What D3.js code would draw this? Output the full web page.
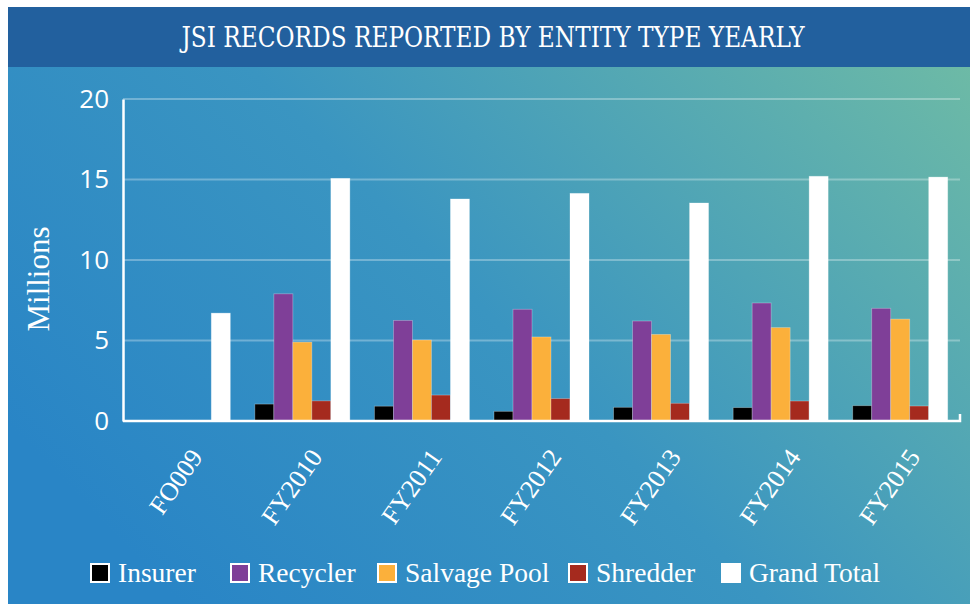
<!DOCTYPE html>
<html>
<head>
<meta charset="utf-8">
<script src="https://cdn.jsdelivr.net/npm/d3@7"></script>
<style>
  body { margin: 0; background: #fff; }
</style>
</head>
<body>
<div id="chart"></div>
<script>
// data
let years = ["FO009", "FY2010", "FY2011", "FY2012", "FY2013", "FY2014", "FY2015"];
let seriesNames = ["Insurer", "Recycler", "Salvage Pool", "Shredder", "Grand Total"];
let insurer = [0, 1.05, 0.92, 0.6, 0.85, 0.83, 0.95];
let recycler = [0, 7.9, 6.25, 6.94, 6.21, 7.33, 7.0];
let salvagePool = [0, 4.9, 5.03, 5.22, 5.38, 5.8, 6.33];
let shredder = [0, 1.25, 1.61, 1.39, 1.1, 1.24, 0.93];
let grandTotal = [6.7, 15.07, 13.79, 14.14, 13.54, 15.2, 15.15];
let yTicks = [0, 5, 10, 15, 20];

function init() {
    let width = 970;
    let height = 604;
    let colors = ["#000000", "#7f3f98", "#fbb03b", "#a52a1e", "#ffffff"];
    let allSeries = [insurer, recycler, salvagePool, shredder, grandTotal];

    let svg = d3.select("#chart")
        .append("svg")
        .attr("width", width)
        .attr("height", height);

    let defs = svg.append("defs");
    let grad = defs.append("linearGradient")
        .attr("id", "bg")
        .attr("x1", "0").attr("y1", "0.7")
        .attr("x2", "1").attr("y2", "0.1");
    grad.append("stop").attr("offset", "0").attr("stop-color", "#2985c6");
    grad.append("stop").attr("offset", "0.45").attr("stop-color", "#3a95c1");
    grad.append("stop").attr("offset", "1").attr("stop-color", "#6dbaa6");

    // background + header
    svg.append("rect")
        .attr("x", 8).attr("y", 7)
        .attr("width", width - 8).attr("height", height - 7)
        .attr("fill", "url(#bg)");
    svg.append("rect")
        .attr("x", 8).attr("y", 7)
        .attr("width", width - 8).attr("height", 60)
        .attr("fill", "#22609e");
    svg.append("text")
        .attr("x", 493).attr("y", 47)
        .attr("text-anchor", "middle")
        .attr("fill", "#fff")
        .attr("font-family", "'DejaVu Serif Condensed', 'DejaVu Serif', serif")
        .attr("font-size", 27)
        .attr("textLength", 623)
        .attr("lengthAdjust", "spacingAndGlyphs")
        .text("JSI RECORDS REPORTED BY ENTITY TYPE YEARLY");

    let left = 123, right = 960, top = 99, bottom = 421;

    let xScale = d3.scaleBand()
        .domain(years)
        .range([left, right]);
    let barW = 19;
    let xInner = d3.scaleBand()
        .domain(seriesNames)
        .range([0, barW * 5]);
    let yScale = d3.scaleLinear()
        .domain([0, 20])
        .range([bottom, top]);

    // gridlines
    svg.append("g")
        .selectAll("line")
        .data(yTicks.slice(1))
        .enter()
        .append("line")
        .attr("x1", left).attr("x2", right)
        .attr("y1", d => yScale(d)).attr("y2", d => yScale(d))
        .attr("stroke", "rgba(255,255,255,0.3)")
        .attr("stroke-width", 2);

    // bars
    let groups = svg.append("g")
        .selectAll("g")
        .data(years)
        .enter()
        .append("g")
        .attr("transform", d => "translate(" + (xScale(d) + (xScale.bandwidth() - barW * 5) / 2) + ",0)");
    groups.selectAll("rect")
        .data((d, i) => seriesNames.map((s, j) => ({ s: s, v: allSeries[j][i], c: colors[j] })))
        .enter()
        .filter(d => d.v > 0)
        .append("rect")
        .attr("x", d => xInner(d.s))
        .attr("width", xInner.bandwidth())
        .attr("y", d => yScale(d.v))
        .attr("height", d => bottom - yScale(d.v))
        .attr("fill", d => d.c)
        .attr("stroke", "rgba(255,255,255,0.35)")
        .attr("stroke-width", 0.8);

    // y axis
    let yAxis = svg.append("g")
        .attr("transform", "translate(" + left + ",0)")
        .call(d3.axisLeft(yScale).tickValues(yTicks).tickSize(0).tickPadding(14));
    yAxis.select(".domain").attr("stroke", "#fff").attr("stroke-width", 2.5);
    yAxis.selectAll("text")
        .attr("fill", "#fff")
        .attr("font-family", "'Open Sans', sans-serif")
        .attr("font-size", 26);

    // x axis
    let xAxis = svg.append("g")
        .attr("transform", "translate(0," + bottom + ")")
        .call(d3.axisBottom(xScale).tickSize(0).tickPadding(0));
    xAxis.select(".domain").attr("stroke", "#fff").attr("stroke-width", 2.5)
        .attr("d", "M" + left + ",0H" + right + "V-7");
    xAxis.selectAll("text")
        .attr("fill", "#fff")
        .attr("font-family", "'Liberation Serif', serif")
        .attr("font-size", 26)
        .attr("text-anchor", "end")
        .attr("dy", 0)
        .attr("transform", function () {
            return "translate(21,36) rotate(-55)";
        });

    svg.append("text")
        .attr("transform", "translate(49,279) rotate(-90)")
        .attr("text-anchor", "middle")
        .attr("fill", "#fff")
        .attr("font-family", "'Liberation Serif', serif")
        .attr("font-size", 31)
        .text("Millions");

    // legend
    let legendX = [90, 230, 377, 568, 721];
    let legend = svg.append("g")
        .selectAll("g")
        .data(seriesNames)
        .enter()
        .append("g")
        .attr("transform", (d, i) => "translate(" + legendX[i] + ",563)");
    legend.append("rect")
        .attr("x", 1).attr("y", 1)
        .attr("width", 18).attr("height", 18)
        .attr("fill", (d, i) => colors[i])
        .attr("stroke", "#fff")
        .attr("stroke-width", 2);
    legend.append("text")
        .attr("x", 28).attr("y", 19)
        .attr("fill", "#fff")
        .attr("font-family", "'Liberation Serif', serif")
        .attr("font-size", 27.5)
        .text(d => d);
}

window.addEventListener('load', init);
</script>
</body>
</html>
